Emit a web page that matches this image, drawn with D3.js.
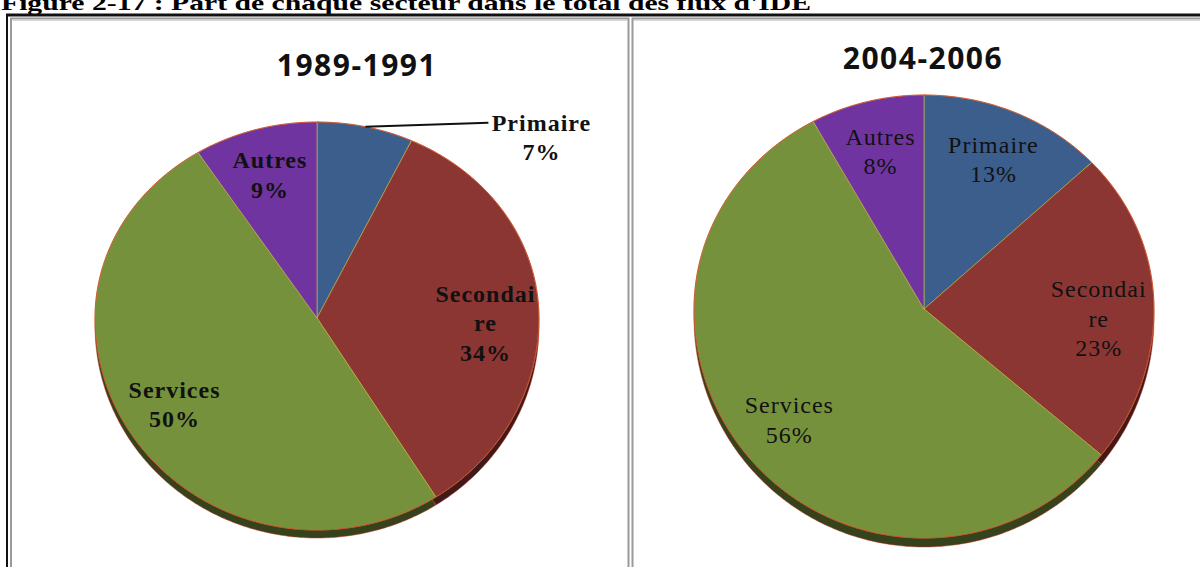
<!DOCTYPE html>
<html><head><meta charset="utf-8">
<script src="https://cdn.jsdelivr.net/npm/d3@7"></script>
<style>html,body{margin:0;padding:0;background:#fff;overflow:hidden}</style>
</head><body>
<svg id="c" width="1200" height="567"></svg>
<script>
const caption = "Figure 2-17 : Part de chaque secteur dans le total des flux d'IDE";
const categories = ["Primaire", "Secondaire", "Services", "Autres"];
const colors = ["#3b5e8c", "#8c3634", "#76913b", "#7034a0"];
const periods = ["1989-1991", "2004-2006"];
const values1989 = [7, 34, 50, 9];
const values2004 = [13, 23, 56, 8];

const svg = d3.select("#c");
const serif = "'Liberation Serif', 'Times New Roman', Times, serif";

// caption (cut off at top, as in the source)
svg.append("text").attr("x", 1).attr("y", 10)
  .attr("font-family", serif)
  .attr("font-weight", "bold").attr("font-size", 22)
  .attr("textLength", 810).attr("lengthAdjust", "spacingAndGlyphs")
  .text(caption);

// frames
svg.append("line").attr("x1", 6).attr("x2", 1200).attr("y1", 15).attr("y2", 15).attr("stroke", "#111").attr("stroke-width", 3);
svg.append("line").attr("x1", 7).attr("x2", 7).attr("y1", 14).attr("y2", 567).attr("stroke", "#111").attr("stroke-width", 2);
svg.append("rect").attr("x", 11).attr("y", 18.5).attr("width", 617.5).attr("height", 560).attr("fill", "none").attr("stroke", "#9a9a9a").attr("stroke-width", 2);
svg.append("rect").attr("x", 632.5).attr("y", 18.5).attr("width", 600).attr("height", 560).attr("fill", "none").attr("stroke", "#9a9a9a").attr("stroke-width", 2);
svg.append("line").attr("x1", 13).attr("x2", 627).attr("y1", 20.5).attr("y2", 20.5).attr("stroke", "#d8d8d8").attr("stroke-width", 1);
svg.append("line").attr("x1", 634).attr("x2", 1200).attr("y1", 20.5).attr("y2", 20.5).attr("stroke", "#d8d8d8").attr("stroke-width", 1);

const panels = [
  {values: values1989, period: periods[0], cx: 317, cy: 318, rx: 222, ryT: 196, ryB: 212, depth: 8,
   titleX: 357, titleY: 76, bold: true},
  {values: values2004, period: periods[1], cx: 924, cy: 309, rx: 230, ryT: 214, ryB: 229, depth: 9,
   titleX: 923, titleY: 69, bold: false}
];

const pie = d3.pie().sort(null).value(d => d.v);
const line = d3.line().x(d => d[0]).y(d => d[1]);

function wrap(name) {
  const out = [];
  for (let i = 0; i < name.length; i += 8) out.push(name.slice(i, i + 8));
  return out;
}

panels.forEach(p => {
  const g = svg.append("g");
  const proj = (a, r, dy = 0) => {
    const c = Math.cos(a);
    return [p.cx + p.rx * r * Math.sin(a), p.cy + dy - r * c * (c > 0 ? p.ryT : p.ryB)];
  };
  const slicePts = (d, dy) => {
    const pts = [proj(0, 0, dy)];
    const n = Math.max(2, Math.ceil((d.endAngle - d.startAngle) / 0.01));
    for (let i = 0; i <= n; i++) pts.push(proj(d.startAngle + (d.endAngle - d.startAngle) * i / n, 1, dy));
    return pts;
  };
  const data = categories.map((c, i) => ({name: c, v: p.values[i], color: colors[i]}));
  const arcs = pie(data);

  // 3D side (shadow)
  g.selectAll("path.side").data(arcs).join("path").attr("class", "side")
    .attr("d", d => line(slicePts(d, p.depth)) + "Z")
    .attr("fill", d => d3.color(d.data.color).darker(2.2))
    .attr("stroke", "#c8342a").attr("stroke-width", 0.8).attr("stroke-opacity", 0.6);

  // top face
  g.selectAll("path.top").data(arcs).join("path").attr("class", "top")
    .attr("d", d => line(slicePts(d, 0)) + "Z")
    .attr("fill", d => d.data.color)
    .attr("stroke", "#d8c84a").attr("stroke-width", 0.8).attr("stroke-opacity", 0.7);

  // outline
  const outline = d3.range(0, 2 * Math.PI + 0.01, 0.01).map(a => proj(a, 1));
  g.append("path").attr("d", line(outline)).attr("fill", "none")
    .attr("stroke", "#d23a2a").attr("stroke-width", 1).attr("stroke-opacity", 0.8);

  // title
  g.append("text").attr("x", p.titleX).attr("y", p.titleY).attr("text-anchor", "middle")
    .attr("font-family", "'Open Sans', 'Liberation Sans', sans-serif").attr("font-weight", "bold")
    .attr("font-size", 30).attr("letter-spacing", 1.5).attr("fill", "#111").text(p.period);

  // labels
  const lh = 29.5;
  arcs.forEach(d => {
    const mid = (d.startAngle + d.endAngle) / 2;
    const lines = wrap(d.data.name).concat([d.data.v + "%"]);
    let lx, ly;
    if (d.data.v < 8) {
      const e = proj(mid, 1);
      const ex = e[0] + 123, ey = e[1] - 4;
      g.append("line").attr("x1", e[0]).attr("y1", e[1]).attr("x2", ex).attr("y2", ey)
        .attr("stroke", "#111").attr("stroke-width", 2);
      lx = ex + 53; ly = ey + 15;
    } else {
      const c = proj(mid, 0.76);
      lx = c[0]; ly = c[1] + (lines.length > 2 ? lh * 0.5 : 0);
    }
    const t = g.append("text").attr("font-family", serif)
      .attr("font-weight", p.bold ? "bold" : "normal").attr("font-size", 24)
      .attr("letter-spacing", 1).attr("fill", "#111").attr("text-anchor", "middle");
    lines.forEach((s, i) => {
      t.append("tspan").attr("x", lx).attr("y", ly - (lines.length - 1) * lh / 2 + 8 + i * lh).text(s);
    });
  });
});
</script>
</body></html>
